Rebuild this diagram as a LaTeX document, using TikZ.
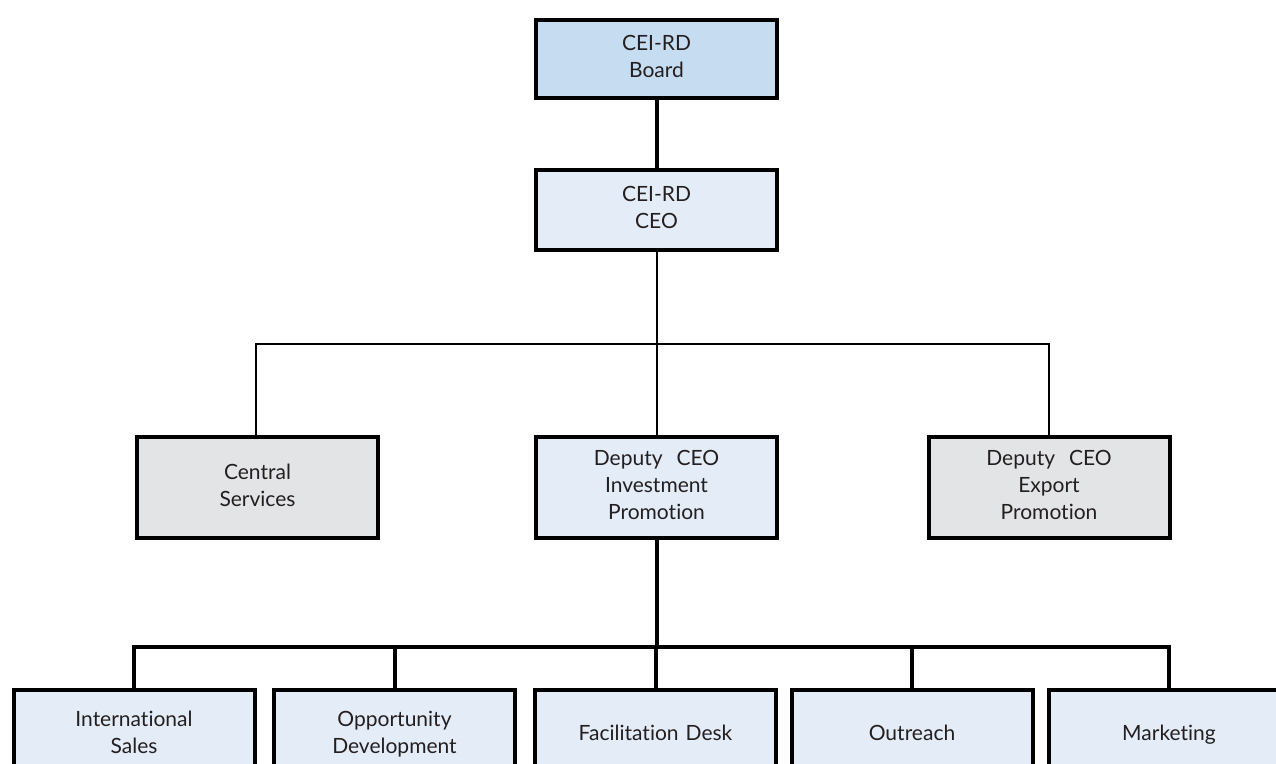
\documentclass[tikz,border=0pt]{standalone}
\usepackage{fontspec}
\setmainfont{Lato}[Ligatures=NoCommon]
\usepackage{tikz}
\usetikzlibrary{positioning,calc}
\usepackage{xcolor}
\definecolor{boardblue}{HTML}{C6DCF1}
\definecolor{paleblue}{HTML}{E4ECF7}
\definecolor{palegray}{HTML}{E3E4E5}
\definecolor{inkgray}{HTML}{231F20}

\begin{document}
\begin{tikzpicture}[
  x=1pt, y=-1pt,
  font=\fontsize{21}{27}\selectfont,
  unitbox/.style={
    draw=black,
    fill=paleblue,
    line width=4pt,
    minimum width=241pt,
    text width=230pt,
    align=center,
    inner sep=0pt,
    text=inkgray,
    execute at begin node=\strut,
    execute at end node=\strut
  },
  graybox/.style={unitbox, fill=palegray},
  heavyline/.style={line width=4pt, draw=black},
  lightline/.style={line width=2pt, draw=black}
]

  % Frame of the picture
  \clip (0,0) rectangle (1276,763);

  % Top of the chart
  \node[unitbox, fill=boardblue, minimum height=78pt] (board) at (656.5,59) {CEI-RD\\Board};
  \node[unitbox, minimum height=80pt] (ceo) at (656.5,210) {CEI-RD\\CEO};

  % Second level
  \node[graybox, minimum height=101pt] (central) at (257.5,487.5) {Central\\Services};
  \node[unitbox, minimum height=101pt] (invest) at (656.5,487.5) {Deputy~ CEO\\Investment\\Promotion};
  \node[graybox, minimum height=101pt] (export) at (1049,487.5) {Deputy~ CEO\\Export\\Promotion};

  % Investment promotion units (cut off at the bottom)
  \node[unitbox, minimum height=90pt, anchor=north] (sales) at (134,688) {International\\Sales};
  \node[unitbox, minimum height=90pt, anchor=north] (opport) at (394.5,688) {Opportunity\\Development};
  \node[unitbox, minimum height=90pt, anchor=north] (facil) at (655.5,688) {Facilitation Desk};
  \node[unitbox, minimum height=90pt, anchor=north] (outreach) at (912,688) {Outreach};
  \node[unitbox, minimum height=90pt, anchor=north] (market) at (1169,688) {Marketing};

  % Connectors
  \coordinate (upperbus) at (656.5,344);
  \coordinate (lowerbus) at (656.5,647);

  \draw[heavyline] (board.south) -- (ceo.north);
  \draw[lightline] (ceo.south) -- (invest.north);
  \draw[lightline] (central.north -| 256,0) |- (upperbus) -| (export.north);

  \draw[heavyline] (invest.south) -- (lowerbus);
  \draw[heavyline, line join=miter] (sales.north) |- (lowerbus) -| (market.north);
  \draw[heavyline] (opport.north) -- (opport.north |- lowerbus);
  \draw[heavyline] (facil.north) -- (facil.north |- lowerbus);
  \draw[heavyline] (outreach.north) -- (outreach.north |- lowerbus);

\end{tikzpicture}
\end{document}
